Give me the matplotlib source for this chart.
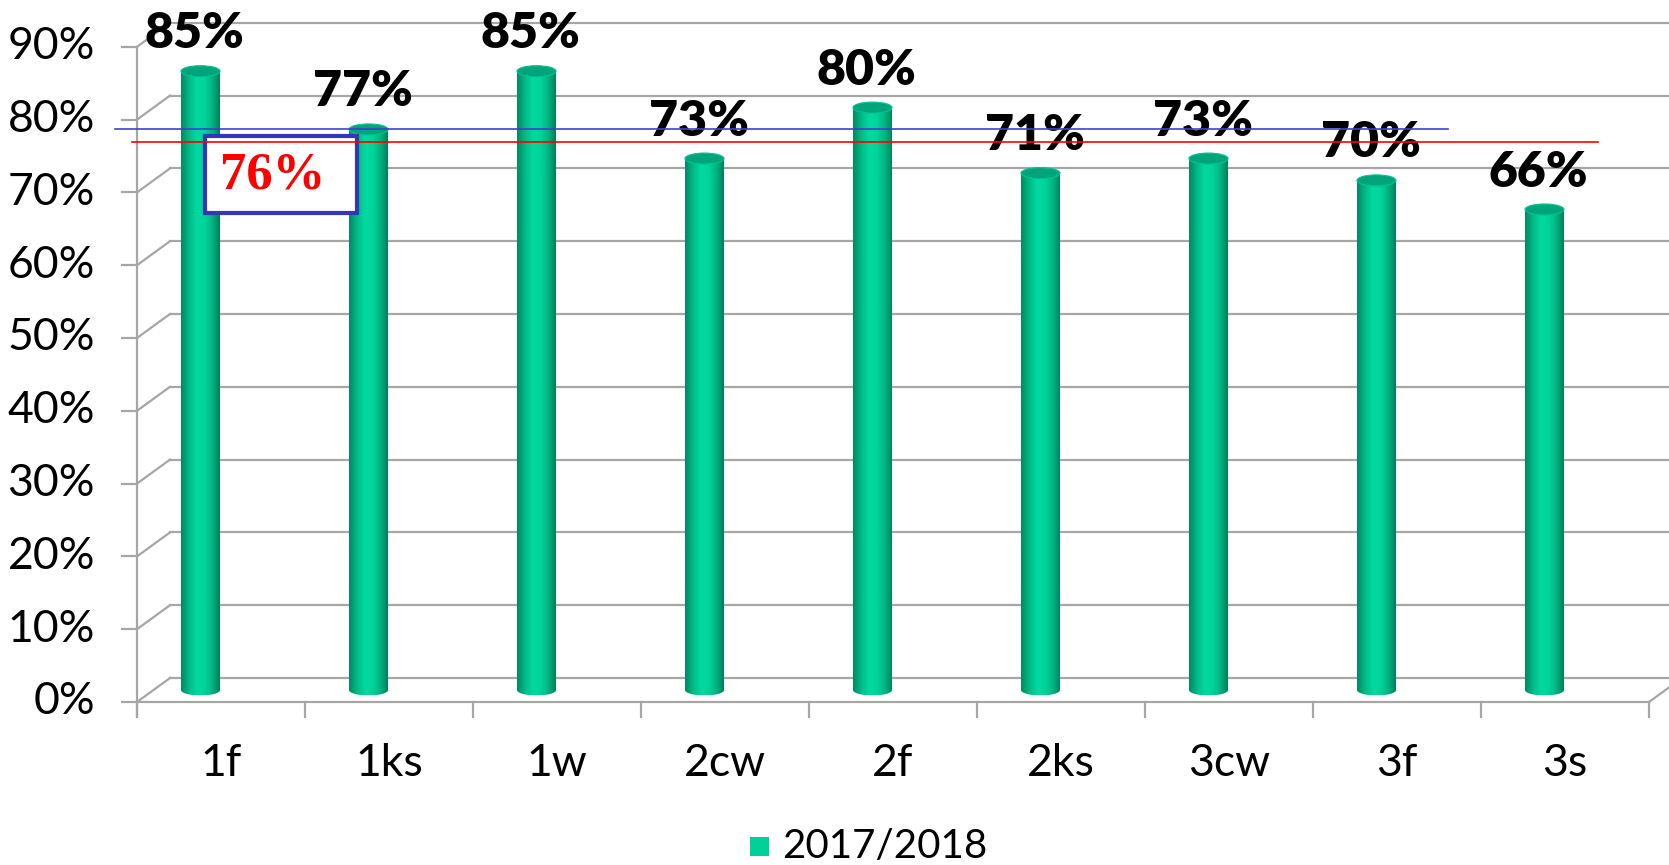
import numpy as np
import matplotlib.pyplot as plt
from matplotlib.patches import Ellipse, Polygon, Rectangle
from matplotlib.colors import LinearSegmentedColormap

categories = ['1f', '1ks', '1w', '2cw', '2f', '2ks', '3cw', '3f', '3s']
values = [85, 77, 85, 73, 80, 71, 73, 70, 66]
yticks = [0, 10, 20, 30, 40, 50, 60, 70, 80, 90]
series_name = '2017/2018'
blue_level = 78.7
red_level = 76.9
box_text = '76%'

# pixel -> data scale (x: one category = 168 px, y: 1% = 7.28 px)
px_x = 1 / 168.0
px_y = 1 / 7.28
dx = 33 * px_x          # depth offset of back wall
dy = 24 * px_y

fig = plt.figure(figsize=(16.69, 8.65), dpi=100)
ax = fig.add_axes([0, 0, 1, 1])
ax.set_xlim(-137 * px_x, (1669 - 137) * px_x)
ax.set_ylim((702 - 865) * px_y, 702 * px_y)
ax.axis('off')

grid_c = '#a6a6a6'
n = len(categories)
xr = n + dx + 1

# back wall gridlines + side diagonals
for t in yticks:
    ax.plot([dx, xr], [t + dy, t + dy], color=grid_c, lw=1.6, zorder=1)
    ax.plot([0, dx], [t, t + dy], color=grid_c, lw=1.6, zorder=1)
    ax.plot([-15 * px_x, 0], [t, t], color=grid_c, lw=1.6, zorder=1)
    ax.text(-42 * px_x, t, f'{t}%', ha='right', va='center', fontsize=32,
            family='Lato', color='black')

# front axis, floor
ax.plot([0, 0], [-15 * px_y, yticks[-1]], color=grid_c, lw=1.6, zorder=1)
ax.plot([0, n], [0, 0], color=grid_c, lw=1.6, zorder=1)
ax.plot([n, n + dx], [0, dy], color=grid_c, lw=1.6, zorder=1)
for k in range(n + 1):
    ax.plot([k, k], [0, -15 * px_y], color=grid_c, lw=1.6, zorder=1)

# category labels
for i, c in enumerate(categories):
    ax.text(i + 0.5, (702 - 764) * px_y, c, ha='center', va='center',
            fontsize=32, family='Lato', color='black')

# cylinders
cmap = LinearSegmentedColormap.from_list(
    'cyl', ['#008a62', '#00b985', '#00d9a0', '#00d49b', '#00b583', '#007f5a'])
grad = np.linspace(0, 1, 100)[None, :]
w = 39 * px_x
eh = 11 * px_y
for i, v in enumerate(values):
    c = i + 0.5 - 37 * px_x + dx / 2
    yb = dy / 2
    yt = v + dy / 2
    th = np.linspace(np.pi, 2 * np.pi, 40)
    pts = [(c + w / 2 * np.cos(a), yb + eh / 2 * np.sin(a)) for a in th]
    pts += [(c + w / 2, yt), (c - w / 2, yt)]
    clip = Polygon(pts, closed=True, transform=ax.transData)
    im = ax.imshow(grad, cmap=cmap, aspect='auto', interpolation='bicubic',
                   extent=(c - w / 2, c + w / 2, yb - eh / 2, yt), zorder=3)
    im.set_clip_path(clip)
    ax.add_patch(Ellipse((c, yt), w, eh, facecolor='#00a47b',
                         edgecolor='#00c48f', lw=0.8, zorder=4))
    ax.text(c - 6 * px_x, yt + 23 * px_y, f'{v}%', ha='center', va='baseline',
            fontsize=36, fontweight='heavy', family='Lato', color='black',
            zorder=6)

# reference lines and box
ax.plot([-22 * px_x, (1448 - 137) * px_x], [blue_level, blue_level],
        color='#3f3fd0', lw=1.2, zorder=7)
ax.add_patch(Rectangle(((205 - 137) * px_x, (702 - 213) * px_y),
                       152 * px_x, 77 * px_y, facecolor='white',
                       edgecolor='#3535b5', lw=3, zorder=7))
ax.plot([-5 * px_x, (1598 - 137) * px_x], [red_level, red_level],
        color='red', lw=1.2, zorder=8)
ax.text((273 - 137) * px_x, (702 - 176) * px_y, box_text, ha='center',
        va='center', fontsize=38, fontweight='bold', family='Liberation Serif',
        color='red', zorder=9)

# legend
ax.add_patch(Rectangle(((750 - 137) * px_x, (702 - 856) * px_y), 19 * px_x,
                       19 * px_y, facecolor='#00d09a', edgecolor='none',
                       zorder=5))
ax.text((782 - 137) * px_x, (702 - 846) * px_y, series_name, ha='left',
        va='center', fontsize=29, family='Lato', color='black')

ax.set_xlim(-137 * px_x, (1669 - 137) * px_x)
ax.set_ylim((702 - 865) * px_y, 702 * px_y)
fig.savefig('out.png', dpi=100)
